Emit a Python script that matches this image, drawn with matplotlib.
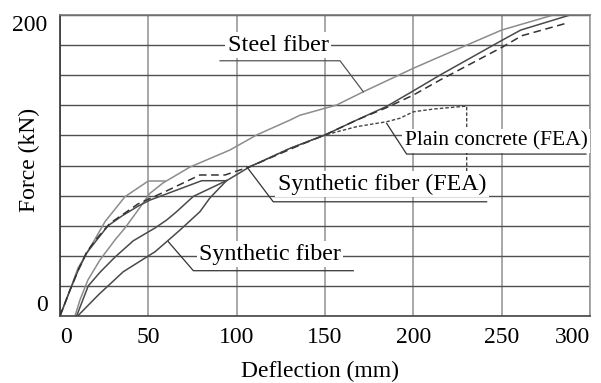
import matplotlib.pyplot as plt

plt.rcParams['font.family'] = ['Liberation Serif', 'DejaVu Serif']

# steel fiber, test (light grey)
steel_x = [8.5, 11.3, 15.8, 22.6, 31.1, 36.8, 44.2, 50.9, 58.3, 73.6, 96.2, 111.3,
           130.2, 135.8, 156.6, 171.7, 200, 215, 250, 279.2]
steel_y = [0, 10.6, 23.9, 37.2, 50.5, 58.5, 70.4, 81.5, 88.4, 99, 110.3, 120.3,
           130.2, 133.4, 140.2, 149, 164.6, 172.3, 190, 200]

# second light grey test curve (with plateau)
steel2_x = [0, 5.7, 10.2, 17.9, 25.5, 36.8, 50, 59.4]
steel2_y = [0, 17.3, 31.9, 47.2, 62.7, 79.3, 89.7, 89.7]

# synthetic fiber FEA (dark solid)
synfea_x = [0, 5.7, 10.4, 15.1, 20.8, 27.2, 35.1, 44.2, 50.9, 80.2, 94.3, 107.5,
            130.2, 150, 167.9, 184.9, 200, 215.1, 250.5, 260.8, 288.7]
synfea_y = [0, 17.3, 30.6, 41.9, 50.5, 60.0, 66.5, 73.0, 77.0, 89.9, 89.9, 99.2,
            111.4, 120.3, 130.2, 139.3, 149.6, 160.1, 183.4, 190, 200]

# dashed FEA curve
dash_x = [0, 5.7, 10.4, 15.1, 20.8, 28.3, 44.2, 59.4, 79.2, 93.4, 107.5, 135.8,
          150, 167.9, 184.9, 200, 215.1, 250.9, 261.3, 287.7]
dash_y = [0, 17.3, 30.6, 42.5, 51.5, 61.6, 74.5, 82.6, 93.7, 93.7, 99.2, 113.6,
          120.3, 130.2, 138.5, 146.8, 156.8, 179, 186.2, 194.9]

# middle dark test curve
mid_x = [9.4, 16, 22.6, 31, 41.5, 53.8, 60.4, 66, 75.5, 94.3]
mid_y = [0, 20, 29, 39, 50, 58.5, 63.8, 69.3, 79.5, 90]

# synthetic fiber, test (lowest)
syn_x = [10, 21.7, 35.8, 53.8, 60.4, 67.9, 79.2, 84.9, 94.3]
syn_y = [0, 14, 29.4, 42.7, 49.4, 57.1, 69.3, 78.5, 90]

# plain concrete FEA (dotted)
plain_x = [107.5, 130.2, 150, 167.9, 184.9, 192.4, 200, 211.3, 230.2, 230.2]
plain_y = [99.2, 111.4, 120.3, 125.8, 129.1, 131.4, 135.7, 137.5, 139.5, 85]

fig = plt.figure(figsize=(6.01, 3.83), dpi=100)
ax = fig.add_axes([0.0998, 0.1749, 0.8819, 0.7859])

ax.plot(steel2_x, steel2_y, color='#8c8c8c', lw=1.1, zorder=2)
ax.plot(steel_x, steel_y, color='#8c8c8c', lw=1.1, zorder=2)
ax.plot(mid_x, mid_y, color='#4a4a4a', lw=1.1, zorder=2)
ax.plot(syn_x, syn_y, color='#4a4a4a', lw=1.1, zorder=2)
ax.plot(synfea_x, synfea_y, color='#4a4a4a', lw=1.1, zorder=2)
ax.plot(dash_x, dash_y, color='#333333', lw=1.1, ls=(0, (5, 3)), zorder=2)
ax.plot(plain_x, plain_y, color='#444444', lw=1.0, ls=(0, (2.5, 1.5)), zorder=2)

ax.set_xlim(0, 300)
ax.set_ylim(0, 200)
ax.set_xticks(range(0, 301, 50))
ax.set_yticks(range(0, 201, 20))
ax.set_yticklabels(['0'] + [''] * 9 + ['200'])
ax.tick_params(length=0, labelsize=17)
ax.tick_params(axis='x', pad=8)
ax.tick_params(axis='y', pad=9)
xl = ax.get_xticklabels()
xl[0].set_ha('left')
xl[-1].set_ha('right')
yl = ax.get_yticklabels()
yl[0].set_va('bottom')
yl[-1].set_va('top')

ax.set_axisbelow(True)
ax.yaxis.grid(True, color='#505050', lw=1.0)
ax.xaxis.grid(True, color='#999999', lw=1.2)
ax.spines['left'].set_color('#333333')
ax.spines['bottom'].set_color('#444444')
ax.spines['right'].set_color('#999999')
ax.spines['top'].set_color('#777777')
for s in ax.spines.values():
    s.set_linewidth(1.2)

ax.set_xlabel('Deflection (mm)', fontsize=17)
ax.set_ylabel('Force (kN)', fontsize=17)
ax.xaxis.set_label_coords(0.49, -0.183)
ax.yaxis.set_label_coords(-0.057, 0.518)
ax.xaxis.label.set_va('center')
ax.yaxis.label.set_va('center')

box = dict(boxstyle='square,pad=0.1', fc='white', ec='none')
ax.text(123.4, 180, 'Steel fiber', fontsize=17.5, ha='center', va='center', bbox=box, zorder=3)
ax.text(182.3, 87.7, 'Synthetic fiber (FEA)', fontsize=17.2, ha='center', va='center', bbox=box, zorder=3)
ax.text(246.8, 116.3, 'Plain concrete (FEA)', fontsize=15.5, ha='center', va='center', bbox=box, zorder=3)
ax.text(118.9, 41.2, 'Synthetic fiber', fontsize=17.3, ha='center', va='center', bbox=box, zorder=3)

# leaders and underlines
ax.plot([90.6, 158.5, 171.7], [169.6, 169.6, 149], color='#555555', lw=0.9, zorder=4)
ax.plot([105.7, 120.7, 241.5], [99.2, 75.9, 75.9], color='#333333', lw=0.9, zorder=4)
ax.plot([184.9, 196.2, 297.7], [128, 107.6, 107.6], color='#333333', lw=0.9, zorder=4)
ax.plot([61.3, 75.5, 166], [49.4, 30.1, 30.1], color='#333333', lw=0.9, zorder=4)

fig.savefig('out.png', dpi=100)
